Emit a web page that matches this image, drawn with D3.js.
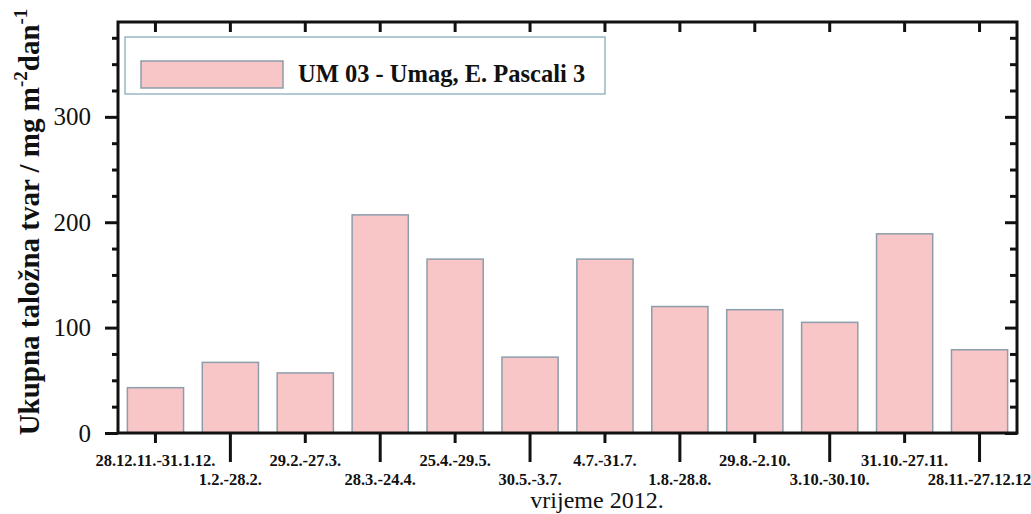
<!DOCTYPE html>
<html lang="hr">
<head>
    <meta charset="UTF-8">
    <title>UM 03 - Umag, E. Pascali 3</title>
    <style>
        body { margin: 0; background: #fff; }
        text { font-family: "Liberation Serif", "Times New Roman", serif; fill: #111; }
    </style>
</head>
<body>
    <div id="chart"></div>
    <script src="https://d3js.org/d3.v7.min.js"></script>
    <script>

        // data
        var periods = ["28.12.11.-31.1.12.", "1.2.-28.2.", "29.2.-27.3.", "28.3.-24.4.", "25.4.-29.5.", "30.5.-3.7.",
                       "4.7.-31.7.", "1.8.-28.8.", "29.8.-2.10.", "3.10.-30.10.", "31.10.-27.11.", "28.11.-27.12.12"];
        var deposit = [43, 67, 57, 207, 165, 72, 165, 120, 117, 105, 189, 79];
        var majorTicks = [0, 100, 200, 300];
        var minorTicks = [25, 50, 75, 125, 150, 175, 225, 250, 275, 325, 350, 375];
        var seriesName = "UM 03 - Umag, E. Pascali 3";

        var margin = {top: 22, right: 14, bottom: 81, left: 118},
            width = 1031 - margin.left - margin.right,
            height = 514 - margin.top - margin.bottom;

        var svg = d3.select("#chart").append("svg")
            .attr("width", 1031)
            .attr("height", 514);

        var g = svg.append("g")
            .attr("transform", "translate(" + margin.left + "," + margin.top + ")");

        var x = d3.scaleBand()
            .domain(periods)
            .range([0, width])
            .paddingInner(0.25)
            .paddingOuter(0.125);

        var y = d3.scaleLinear()
            .domain([0, 390])
            .range([height, 0]);

        // bars
        g.selectAll("rect.bar")
            .data(deposit)
            .enter()
            .append("rect")
            .attr("class", "bar")
            .attr("x", function(d, i) { return x(periods[i]); })
            .attr("y", function(d) { return y(d); })
            .attr("width", x.bandwidth())
            .attr("height", function(d) { return height - y(d); })
            .attr("fill", "#f8c6c7")
            .attr("stroke", "#8d9dab")
            .attr("stroke-width", 1.5);

        // left axis, major + minor (outward)
        var leftMajor = g.append("g")
            .call(d3.axisLeft(y).tickValues(majorTicks).tickSize(13).tickPadding(14).tickFormat(d3.format("d")));
        leftMajor.selectAll("text").style("font-size", "25px").attr("fill", "#222");
        g.append("g")
            .call(d3.axisLeft(y).tickValues(minorTicks).tickSize(6).tickFormat(""));

        // right axis (inward)
        var right = g.append("g").attr("transform", "translate(" + width + ",0)");
        right.call(d3.axisLeft(y).tickValues(majorTicks).tickSize(12).tickFormat(""));
        right.append("g").call(d3.axisLeft(y).tickValues(minorTicks).tickSize(7).tickFormat(""));

        // top axis (inward)
        g.append("g")
            .call(d3.axisBottom(x).tickSize(10).tickFormat(""));

        // bottom axis, labels staggered on two rows
        var bottom = g.append("g")
            .attr("transform", "translate(0," + height + ")")
            .call(d3.axisBottom(x).tickSize(10).tickPadding(0));
        bottom.selectAll(".tick line")
            .attr("y2", function(d, i) { return i % 2 == 0 ? 10 : 29; });
        bottom.selectAll(".tick text")
            .attr("y", function(d, i) { return i % 2 == 0 ? 33 : 52; })
            .attr("dy", 0)
            .style("font-size", "16.5px")
            .style("font-weight", "bold")
            .attr("fill", "#222");

        g.selectAll(".domain").remove();
        g.selectAll(".tick line").attr("stroke", "#111").attr("stroke-width", 3);

        // frame
        g.append("rect")
            .attr("width", width)
            .attr("height", height)
            .attr("fill", "none")
            .attr("stroke", "#111")
            .attr("stroke-width", 3);

        // legend
        var legend = g.append("g").attr("transform", "translate(7,15)");
        legend.append("rect")
            .attr("width", 480)
            .attr("height", 57)
            .attr("fill", "#fff")
            .attr("stroke", "#7fa6b8")
            .attr("stroke-width", 1.2);
        legend.append("rect")
            .attr("x", 16)
            .attr("y", 24)
            .attr("width", 142)
            .attr("height", 27)
            .attr("fill", "#f8c6c7")
            .attr("stroke", "#8d9dab")
            .attr("stroke-width", 1.5);
        legend.append("text")
            .attr("x", 173)
            .attr("y", 45)
            .style("font-size", "24.5px")
            .style("font-weight", "bold")
            .text(seriesName);

        // axis titles
        svg.append("text")
            .attr("x", 597)
            .attr("y", 508)
            .attr("text-anchor", "middle")
            .style("font-size", "24px")
            .attr("fill", "#222")
            .text("vrijeme 2012.");

        var ylab = svg.append("text")
            .attr("transform", "translate(39,222) rotate(-90)")
            .attr("text-anchor", "middle")
            .style("font-size", "29px")
            .style("font-weight", "bold");
        ylab.append("tspan").text("Ukupna taložna tvar / mg m");
        ylab.append("tspan").attr("dy", -12).style("font-size", "19px").text("-2");
        ylab.append("tspan").attr("dy", 12).text("dan");
        ylab.append("tspan").attr("dy", -12).style("font-size", "19px").text("-1");

    </script>
</body>
</html>
